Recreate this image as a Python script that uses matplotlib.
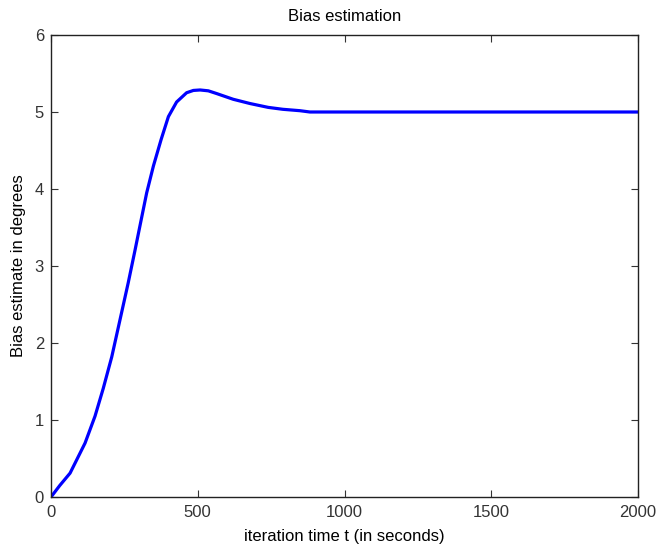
import matplotlib.pyplot as plt

# values
t_sec = [0, 30, 65, 116, 150, 178, 207, 235, 263, 286, 303, 326, 349, 375,
         400, 428, 462, 485, 508, 536, 564, 621, 678, 740, 790, 848, 882,
         1000, 1500, 2000]
bias_deg = [0, 0.15, 0.31, 0.70, 1.05, 1.41, 1.82, 2.30, 2.78, 3.20, 3.52,
            3.95, 4.30, 4.64, 4.94, 5.13, 5.25, 5.28, 5.286, 5.275, 5.24,
            5.165, 5.11, 5.06, 5.035, 5.017, 5.0, 5.0, 5.0, 5.0]
x_ticks = [0, 500, 1000, 1500, 2000]
y_ticks = [0, 1, 2, 3, 4, 5, 6]

plt.rcParams['font.family'] = ['Liberation Sans', 'DejaVu Sans']

fig = plt.figure(figsize=(6.59, 5.48), dpi=100)
ax = fig.add_axes([51 / 659, 51 / 548, 587 / 659, 462 / 548])
ax.plot(t_sec, bias_deg, color='#0000ff', linewidth=2.3,
        solid_joinstyle='round')

ax.set_xlim(0, 2000)
ax.set_ylim(0, 6)
ax.set_xticks(x_ticks)
ax.set_yticks(y_ticks)
ax.tick_params(direction='in', top=True, right=True, labelsize=12,
               length=5, width=0.8, colors='#333333')
ax.tick_params(axis='x', pad=6)
ax.tick_params(axis='y', pad=5)
for s in ax.spines.values():
    s.set_linewidth(1.0)
    s.set_color('#222222')

ax.set_title('Bias estimation', fontsize=12, pad=10)
ax.set_xlabel('iteration time t (in seconds)', fontsize=12, labelpad=6)
ax.set_ylabel('Bias estimate in degrees', fontsize=12, labelpad=6)

plt.savefig('out.png', dpi=100)
